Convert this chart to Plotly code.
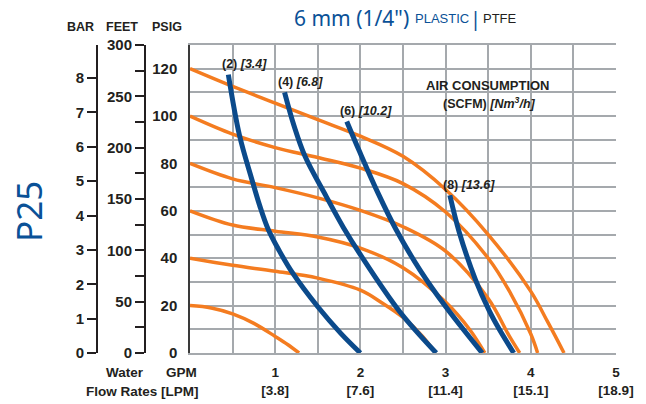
import plotly.graph_objects as go

# pressure curves (orange): GPM vs PSIG
p20_gpm = [0, 0.25, 0.5, 0.75, 1.0, 1.15, 1.28]
p20_psi = [20, 19, 16.5, 12.5, 7, 3.5, 0]
p40_gpm = [0, 0.5, 1.0, 1.5, 2.0, 2.26, 2.5, 2.73, 2.88]
p40_psi = [40, 37, 34.5, 31.6, 26.5, 21, 15, 7, 0]
p60_gpm = [0, 0.5, 1.0, 1.5, 2.0, 2.5, 3.0, 3.28, 3.46]
p60_psi = [60, 54, 51.4, 49, 44.3, 36, 21.5, 10, 0]
p80_gpm = [0, 0.5, 1.0, 1.5, 2.0, 2.5, 3.0, 3.5, 3.75, 3.87]
p80_psi = [80, 73.5, 69.8, 65.5, 60.2, 53.3, 43, 23, 7, 0]
p100_gpm = [0, 0.5, 1.0, 1.5, 2.0, 2.5, 3.0, 3.5, 3.75, 4.0, 4.08]
p100_psi = [100, 92.4, 86.7, 82.5, 78, 71.5, 59.5, 40, 26, 8, 0]
p120_gpm = [0, 0.5, 1.0, 1.5, 2.0, 2.5, 3.0, 3.5, 4.0, 4.2, 4.39]
p120_psi = [120, 112.5, 105.5, 98.5, 91.5, 83, 69, 50, 26, 13, 0]

# air consumption curves (blue)
a2_gpm = [0.45, 0.58, 0.72, 0.82, 0.92, 1.05, 1.2, 1.5, 1.77, 2.0]
a2_psi = [117.5, 92, 74, 62, 52, 43, 34, 19.5, 8.3, 0]
a4_gpm = [1.11, 1.22, 1.35, 1.6, 1.8, 2.0, 2.46, 2.89]
a4_psi = [110, 96, 83, 66, 53, 41.5, 17.5, 0]
a6_gpm = [1.84, 1.99, 2.2, 2.42, 2.7, 3.0, 3.43]
a6_psi = [97.7, 85, 68, 52, 35, 19.6, 0]
a8_gpm = [3.05, 3.16, 3.35, 3.51, 3.63, 3.8]
a8_psi = [66.6, 51, 31, 18, 10, 0]

air_scfm = ['(2)', '(4)', '(6)', '(8)']
air_nm3h = ['[3.4]', '[6.8]', '[10.2]', '[13.6]']

gpm_ticks = [1, 2, 3, 4, 5]
lpm_ticks = ['3.8', '7.6', '11.4', '15.1', '18.9']
psig_ticks = [0, 20, 40, 60, 80, 100, 120]
bar_ticks = [0, 1, 2, 3, 4, 5, 6, 7, 8]
feet_ticks = [0, 50, 100, 150, 200, 250, 300]

ORANGE = '#F47C20'
BLUE = '#0B4A8B'
TITLE_BLUE = '#0A5197'
DARK = '#231F20'
GRID = '#A5A9AD'
NARROW = 'Liberation Sans, Arial, sans-serif'

# the page body shifts the figure 8px right and down, so it is made smaller
OFF = 8
W, H = 646 - OFF, 404 - OFF
ML, MR, MT, MB = 52, 30, 37, 51
PW = W - ML - MR
PH = H - MT - MB


def px(x):
    # window pixel -> paper x
    return (x - OFF - ML) / PW


def py(y):
    # window pixel -> paper y
    return (H - MB - (y - OFF)) / PH


fig = go.Figure()

for gx, gy in [(p20_gpm, p20_psi), (p40_gpm, p40_psi), (p60_gpm, p60_psi),
               (p80_gpm, p80_psi), (p100_gpm, p100_psi), (p120_gpm, p120_psi)]:
    fig.add_trace(go.Scatter(x=gx, y=gy, mode='lines', line=dict(color=ORANGE, width=3.5, shape='spline'),
                             hoverinfo='skip', showlegend=False))

air_curves = [(a2_gpm, a2_psi), (a4_gpm, a4_psi), (a6_gpm, a6_psi), (a8_gpm, a8_psi)]
for gx, gy in air_curves:
    fig.add_trace(go.Scatter(x=gx, y=gy, mode='lines', line=dict(color=BLUE, width=5, shape='spline'),
                             hoverinfo='skip', showlegend=False))

# empty traces so the extra scales get drawn
fig.add_trace(go.Scatter(x=[], y=[], yaxis='y2', showlegend=False))
fig.add_trace(go.Scatter(x=[], y=[], yaxis='y3', showlegend=False))

tick_font = dict(family=NARROW, size=15, color=DARK)
xtt = ['<b>%d</b><br><b>[%s]</b>' % (g, l) for g, l in zip(gpm_ticks, lpm_ticks)]

fig.update_layout(
    width=W, height=H,
    margin=dict(l=ML, r=MR, t=MT, b=MB, pad=0, autoexpand=False),
    plot_bgcolor='white', paper_bgcolor='white',
    xaxis=dict(domain=[px(190), 1], range=[0, 5], tickvals=gpm_ticks, ticktext=xtt,
               showgrid=True, gridcolor=GRID, gridwidth=1.5, zeroline=False,
               minor=dict(tick0=0, dtick=0.5, showgrid=True, gridcolor=GRID, gridwidth=1.5),
               showline=True, linecolor=GRID, linewidth=1.5, mirror=True,
               ticks='outside', ticklen=6, tickcolor='rgba(0,0,0,0)', automargin=False,
               tickfont=dict(family=NARROW, size=13.5, color=DARK), fixedrange=True),
    yaxis=dict(range=[0, 130], tickvals=psig_ticks, ticktext=['<b>%d</b>' % v for v in psig_ticks],
               showgrid=True, gridcolor=GRID, gridwidth=1.5, zeroline=False,
               minor=dict(tick0=0, dtick=10, showgrid=True, gridcolor=GRID, gridwidth=1.5),
               showline=True, linecolor='#3A3A3A', linewidth=1.5, automargin=False,
               ticks='outside', ticklen=8, tickcolor='rgba(0,0,0,0)',
               tickfont=tick_font, fixedrange=True),
    yaxis2=dict(anchor='free', overlaying='y', side='left', position=px(97),
                range=[0, 130 / 14.5038], tickvals=bar_ticks,
                ticktext=['<b>%d</b>' % v for v in bar_ticks],
                showgrid=False, zeroline=False, showline=True, linecolor=DARK, linewidth=2,
                ticks='outside', ticklen=9, tickwidth=2, tickcolor=DARK, automargin=False,
                tickfont=tick_font, fixedrange=True),
    yaxis3=dict(anchor='free', overlaying='y', side='left', position=px(145),
                range=[0, 300], tickvals=feet_ticks,
                ticktext=['<b>%d</b>' % v for v in feet_ticks],
                minor=dict(dtick=25, ticks='outside', ticklen=9, tickwidth=2, tickcolor=DARK, showgrid=False),
                showgrid=False, zeroline=False, showline=True, linecolor=DARK, linewidth=2,
                ticks='outside', ticklen=9, tickwidth=2, tickcolor=DARK, automargin=False,
                tickfont=tick_font, fixedrange=True),
)

# white box behind the air consumption note
fig.add_shape(type='rect', xref='paper', yref='paper', x0=px(406), x1=px(572), y0=py(114), y1=py(70),
              fillcolor='white', line=dict(width=0), layer='between')

ann = []


def note(text, x, y, size=14, color=DARK, family=NARROW, xanchor='center', **kw):
    ann.append(dict(text=text, x=px(x), y=py(y), xref='paper', yref='paper', showarrow=False,
                    xanchor=xanchor, yanchor='middle', font=dict(family=family, size=size, color=color), **kw))


note('<b>BAR</b>', 80, 27, 12.5)
note('<b>FEET</b>', 122, 27, 12.5)
note('<b>PSIG</b>', 167, 27, 12.5)
note('<b>Water</b>', 125, 372, 13.5)
note('<b>GPM</b>', 199, 372, 13.5, xanchor='right')
note('<b>Flow Rates [LPM]</b>', 201, 391, 13.5, xanchor='right')
note('<b>AIR CONSUMPTION</b>', 488, 85, 13)
note('<b>(SCFM) <i>[Nm<sup>3</sup>/h]</i></b>', 489, 103, 12.5)

note('6 mm (1/4")', 411, 18, 21, TITLE_BLUE, 'Noto Sans, Open Sans, sans-serif', xanchor='right')
note('PLASTIC', 413, 19, 13, TITLE_BLUE, xanchor='left')
note('|', 475, 18, 20, TITLE_BLUE, 'Noto Sans, sans-serif')
note('PTFE', 481, 19, 13, DARK, xanchor='left')
note('P25', 29, 212, 35, TITLE_BLUE, 'Noto Sans, Open Sans, sans-serif', textangle=-90)

for (gx, gy), s, n in zip(air_curves, air_scfm, air_nm3h):
    ann.append(dict(text='<b>%s <i>%s</i></b>' % (s, n), x=gx[0] - 0.1, y=gy[0] + 4.5,
                    xref='x', yref='y', showarrow=False, xanchor='left', yanchor='middle',
                    font=dict(family=NARROW, size=12.5, color=DARK)))

fig.update_layout(annotations=ann)

fig.write_html("out.html")
